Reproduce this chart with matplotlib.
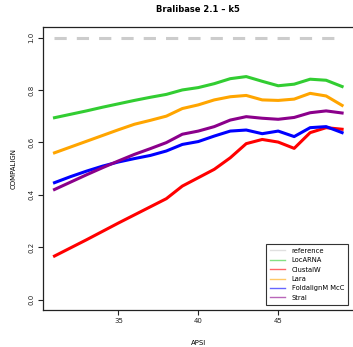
import numpy as np
import matplotlib
matplotlib.use("Agg")
import matplotlib.pyplot as plt
from matplotlib.lines import Line2D

# APSI values on x
apsi = list(range(31, 50))

# COMPALIGN values
locarna = [0.694, 0.707, 0.720, 0.734, 0.747, 0.760, 0.772, 0.783, 0.800, 0.809,
           0.824, 0.843, 0.851, 0.833, 0.816, 0.822, 0.841, 0.837, 0.813]
clustalw = [0.166, 0.197, 0.228, 0.260, 0.292, 0.323, 0.354, 0.385, 0.433, 0.465,
            0.497, 0.541, 0.595, 0.611, 0.601, 0.577, 0.637, 0.656, 0.650]
lara = [0.560, 0.582, 0.604, 0.626, 0.648, 0.669, 0.684, 0.700, 0.729, 0.743,
        0.762, 0.774, 0.779, 0.762, 0.760, 0.765, 0.787, 0.777, 0.741]
foldalign = [0.446, 0.469, 0.490, 0.509, 0.525, 0.538, 0.550, 0.567, 0.592, 0.603,
             0.624, 0.643, 0.647, 0.633, 0.643, 0.622, 0.656, 0.660, 0.637]
stral = [0.420, 0.448, 0.476, 0.503, 0.529, 0.554, 0.576, 0.599, 0.631, 0.643,
         0.660, 0.685, 0.698, 0.692, 0.688, 0.695, 0.713, 0.720, 0.712]
reference = [1.0] * len(apsi)

names = ["reference", "LocARNA", "ClustalW", "Lara", "FoldalignM McC", "Stral"]
colors = ["#cccccc", "#32cd32", "#ff0000", "#ffa500", "#0000ff", "#8b008b"]
series = [reference, locarna, clustalw, lara, foldalign, stral]

fig = plt.figure(figsize=(3.53, 3.47), dpi=100)
ax = fig.add_axes([0.1218, 0.1066, 0.8799, 0.8154])

for name, col, vals in zip(names, colors, series):
    if name == "reference":
        ax.plot(apsi, vals, color=col, lw=2.2, ls="--", dashes=(4, 3.3))
    else:
        ax.plot(apsi, vals, color=col, lw=2.2)

ax.set_xlim(30.28, 49.72)
ax.set_ylim(-0.04, 1.04)
ax.set_xticks([35, 40, 45])
ax.set_yticks([0.0, 0.2, 0.4, 0.6, 0.8, 1.0])
ax.set_yticklabels(["0.0", "0.2", "0.4", "0.6", "0.8", "1.0"])
ax.tick_params(labelsize=5, length=3.5, width=0.8, pad=2.5, colors="#222222")
for lab in ax.get_yticklabels():
    lab.set_rotation(90)
    lab.set_va("center")
for s in ax.spines.values():
    s.set_linewidth(0.9)
    s.set_color("#222222")

ax.set_title("Bralibase 2.1 \u2013 k5", fontsize=6, fontweight="bold", pad=11)
ax.set_xlabel("APSI", fontsize=5, labelpad=11)
ax.set_ylabel("COMPALIGN", fontsize=5, labelpad=9)

# legend with thin, light lines like the original
handles = [Line2D([], [], color=c, lw=1.0, alpha=0.6) for c in colors]
leg = ax.legend(handles, names, loc="lower right", bbox_to_anchor=(0.982, 0.018),
                borderaxespad=0, fontsize=4.9, frameon=True, fancybox=False,
                edgecolor="#333333", framealpha=1, handlelength=2.3,
                handletextpad=0.9, labelspacing=0.5, borderpad=0.6)
leg.get_frame().set_linewidth(0.8)

fig.savefig("out.png", dpi=100)
